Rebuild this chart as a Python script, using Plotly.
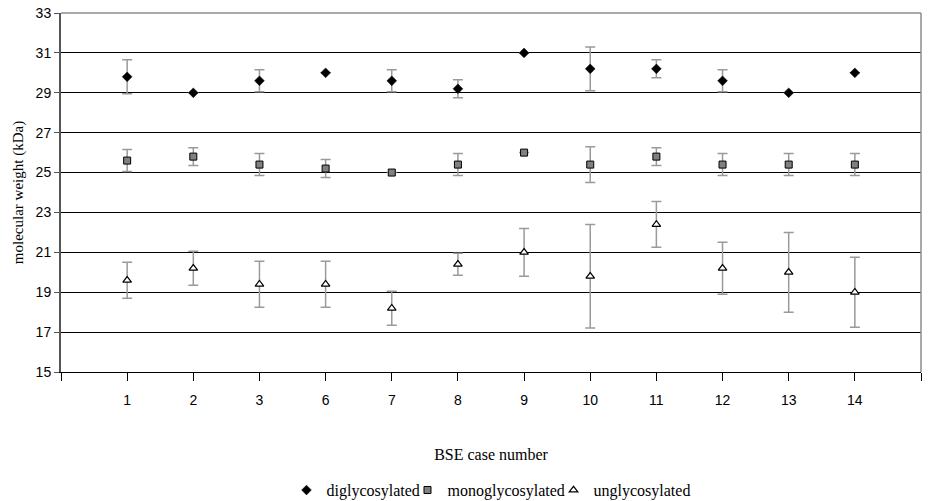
import plotly.graph_objects as go

cases = ["1", "2", "3", "6", "7", "8", "9", "10", "11", "12", "13", "14"]

di_vals = [29.8, 29.0, 29.6, 30.0, 29.6, 29.2, 31.0, 30.2, 30.2, 29.6, 29.0, 30.0]
di_err = [0.85, 0.0, 0.55, 0.0, 0.55, 0.45, 0.0, 1.1, 0.45, 0.55, 0.0, 0.0]

mono_vals = [25.6, 25.8, 25.4, 25.2, 25.0, 25.4, 26.0, 25.4, 25.8, 25.4, 25.4, 25.4]
mono_err = [0.55, 0.45, 0.55, 0.45, 0.0, 0.55, 0.0, 0.9, 0.45, 0.55, 0.55, 0.55]

un_vals = [19.6, 20.2, 19.4, 19.4, 18.2, 20.4, 21.0, 19.8, 22.4, 20.2, 20.0, 19.0]
un_err = [0.9, 0.85, 1.15, 1.15, 0.85, 0.55, 1.2, 2.6, 1.15, 1.3, 2.0, 1.75]

y_ticks = [15, 17, 19, 21, 23, 25, 27, 29, 31, 33]

pos = list(range(1, len(cases) + 1))

SERIF = "Liberation Serif"
SANS = "Liberation Sans"

err_style = dict(type="data", color="#9a9a9a", thickness=1.5, width=5)

fig = go.Figure()
fig.add_trace(go.Scatter(
    x=pos, y=di_vals, mode="markers", name="diglycosylated", legend="legend",
    marker=dict(symbol="diamond", size=7.5, color="black", line=dict(color="black", width=0.5)),
    error_y=dict(array=di_err, **err_style),
))
fig.add_trace(go.Scatter(
    x=pos, y=mono_vals, mode="markers", name="monoglycosylated", legend="legend2",
    marker=dict(symbol="square", size=7, color="#808080", line=dict(color="black", width=1)),
    error_y=dict(array=mono_err, **err_style),
))
fig.add_trace(go.Scatter(
    x=pos, y=un_vals, mode="markers", name="unglycosylated", legend="legend3",
    marker=dict(symbol="triangle-up", size=7.5, color="white", line=dict(color="black", width=1.2)),
    error_y=dict(array=un_err, **err_style),
))

tickvals = [0] + pos + [len(cases) + 1]
ticktext = [""] + cases + [""]

leg_common = dict(orientation="h", xanchor="left", y=-0.329, yanchor="middle",
                  itemwidth=30, bgcolor="rgba(0,0,0,0)",
                  font=dict(family=SERIF, size=16, color="black"))

fig.update_layout(
    width=929, height=501,
    margin=dict(l=61, r=8, t=13, b=129, autoexpand=False),
    plot_bgcolor="white", paper_bgcolor="white",
    showlegend=True,
    legend=dict(x=0.2622, **leg_common),
    legend2=dict(x=0.4029, **leg_common),
    legend3=dict(x=0.5727, **leg_common),
    xaxis=dict(
        range=[0, len(cases) + 1], tickvals=tickvals, ticktext=ticktext,
        showgrid=False, zeroline=False, automargin=False,
        showline=True, linecolor="black", linewidth=1,
        ticks="outside", ticklen=8, tickcolor="black", tickwidth=1,
        ticklabelstandoff=7,
        tickfont=dict(family=SANS, size=14, color="black"),
        title=dict(text="BSE case number", font=dict(family=SERIF, size=16, color="black"), standoff=42),
    ),
    yaxis=dict(
        range=[15, 33], tickvals=y_ticks,
        showgrid=True, gridcolor="black", gridwidth=1, zeroline=False, automargin=False,
        showline=True, linecolor="#555555", linewidth=2,
        ticks="outside", ticklen=5, tickcolor="#555555", tickwidth=1,
        tickfont=dict(family=SANS, size=14, color="black"),
        title=dict(text="molecular weight (kDa)", font=dict(family=SERIF, size=15, color="black"), standoff=8),
    ),
    shapes=[
        dict(type="line", xref="paper", yref="paper", x0=0, x1=1, y0=1, y1=1,
             line=dict(color="#8c8c8c", width=1.5), layer="above"),
        dict(type="line", xref="paper", yref="paper", x0=1, x1=1, y0=0, y1=1,
             line=dict(color="#8c8c8c", width=1.5), layer="above"),
    ],
)

fig.write_html("out.html")
